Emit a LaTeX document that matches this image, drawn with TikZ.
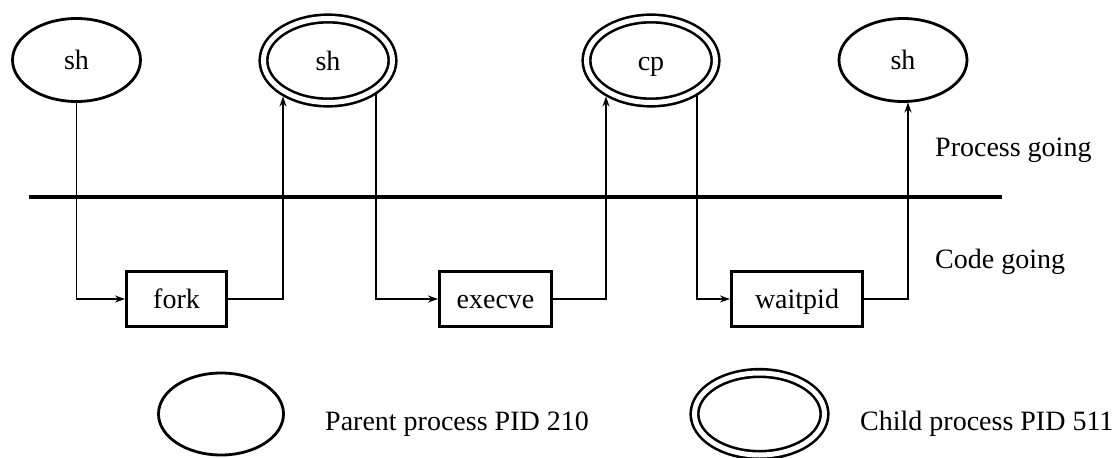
\documentclass[tikz,border=0pt]{standalone}
\usepackage{fontspec}
\setmainfont{Liberation Serif}
\usetikzlibrary{arrows.meta,calc,shapes.geometric}
\begin{document}
\begin{tikzpicture}[x=1pt,y=-1pt,
  font=\fontsize{28}{34}\selectfont,
  proc/.style={ellipse, draw, line width=2.8pt, inner sep=0pt,
    minimum width=128pt, minimum height=83pt, text height=19pt, text depth=0pt},
  child/.style={ellipse, draw, line width=2.6pt, double, double distance=5pt,
    inner sep=0pt, minimum width=129pt, minimum height=84pt,
    text height=19pt, text depth=0pt},
  call/.style={rectangle, draw, line width=3pt, inner sep=0pt,
    minimum height=55pt, text height=19pt, text depth=0pt},
  flow/.style={line width=1.8pt, -{Stealth[length=10pt,width=7pt]}},
  lbl/.style={anchor=base west, inner sep=0pt}]
\useasboundingbox (0,0) rectangle (1120,458);

% processes
\node[proc]  (sh1) at (76.5,60)  {sh};
\node[child] (sh2) at (328,60.5) {sh};
\node[child] (cp)  at (651,60.5) {cp};
\node[proc]  (sh4) at (903,60)   {sh};

% system calls
\node[call, minimum width=100pt] (fork)    at (176.5,299) {fork};
\node[call, minimum width=112pt] (execve)  at (495.5,299) {execve};
\node[call, minimum width=131pt] (waitpid) at (797,299)   {waitpid};

% divider
\coordinate (divL) at (29,197);
\coordinate (divR) at (1002,197);
\draw[line width=4pt] (divL) -- (divR);

% connectors
\draw[flow] (sh1.south) |- (fork.west);
\draw[flow] (fork.east) -| ($(sh2.center)+(-45,36)$);
\draw[flow] ($(sh2.center)+(48,32)$) |- (execve.west);
\draw[flow] (execve.east) -| ($(cp.center)+(-45,36)$);
\draw[flow] ($(cp.center)+(46,33)$) |- (waitpid.west);
\draw[flow] (waitpid.east) -| ($(sh4.center)+(5,42.5)$);

% side labels
\node[lbl] (pg) at (935,156) {Process going};
\node[lbl] (cg) at (935,268) {Code going};

% legend
\node[proc, minimum width=125pt, minimum height=82pt] (par) at (221,414) {};
\node[lbl] (part) at (325,430) {Parent process PID 210};
\node[child, minimum width=130pt, minimum height=82pt] (chi) at (759.5,414) {};
\node[lbl] (chit) at (860,430) {Child process PID 511};
\end{tikzpicture}
\end{document}
